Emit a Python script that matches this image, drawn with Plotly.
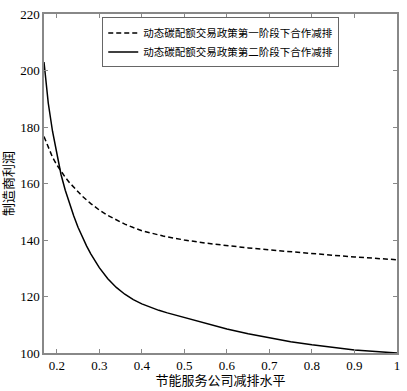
import plotly.graph_objects as go

x1 = [0.17, 0.18, 0.19, 0.20, 0.21, 0.22, 0.23, 0.24, 0.25, 0.26, 0.28, 0.30, 0.32, 0.34, 0.36,
      0.38, 0.40, 0.45, 0.50, 0.55, 0.60, 0.65, 0.70, 0.75, 0.80, 0.85, 0.90, 0.95, 1.00]
stage1 = [176.6, 172.6, 169.3, 166.6, 164.3, 162.2, 160.3, 158.6, 157.0, 155.5, 152.9, 150.6, 148.7,
          147.0, 145.6, 144.4, 143.3, 141.4, 140.0, 138.9, 138.0, 137.2, 136.5, 135.8, 135.2, 134.6,
          134.0, 133.5, 133.0]
x2 = [0.17, 0.18, 0.19, 0.20, 0.21, 0.22, 0.23, 0.24, 0.25, 0.26, 0.27, 0.28, 0.29, 0.30, 0.32,
      0.34, 0.36, 0.38, 0.40, 0.42, 0.44, 0.46, 0.48, 0.50, 0.55, 0.60, 0.65, 0.70, 0.75, 0.80,
      0.85, 0.90, 0.95, 1.00]
stage2 = [203.0, 188.5, 178.5, 170.5, 163.2, 157.6, 152.8, 148.5, 144.5, 141.0, 137.9, 135.1, 132.5,
          130.2, 126.3, 123.2, 120.8, 118.9, 117.4, 116.2, 115.1, 114.2, 113.4, 112.6, 110.4, 108.5,
          106.8, 105.3, 104.0, 102.9, 101.9, 101.1, 100.5, 100.0]
names = ["动态碳配额交易政策第一阶段下合作减排", "动态碳配额交易政策第二阶段下合作减排"]
x_ticks = [0.2, 0.3, 0.4, 0.5, 0.6, 0.7, 0.8, 0.9, 1.0]
x_tick_text = ["0.2", "0.3", "0.4", "0.5", "0.6", "0.7", "0.8", "0.9", "1"]
y_ticks = [100, 120, 140, 160, 180, 200, 220]

FONT = "Liberation Serif, Noto Sans CJK SC, serif"

fig = go.Figure()
fig.add_trace(go.Scatter(x=x1, y=stage1, mode="lines", name=names[0],
                         line=dict(color="black", width=1.5, dash="5px,3px")))
fig.add_trace(go.Scatter(x=x2, y=stage2, mode="lines", name=names[1],
                         line=dict(color="black", width=1.5)))

axis_common = dict(showline=True, linecolor="#888888", linewidth=1.5, mirror="allticks",
                   ticks="inside", ticklen=4, tickcolor="#888888", showgrid=False, zeroline=False,
                   tickfont=dict(family=FONT, size=13, color="black"))
fig.update_xaxes(range=[0.17, 1.0], tickvals=x_ticks, ticktext=x_tick_text,
                 title=dict(text="节能服务公司减排水平", font=dict(family=FONT, size=13, color="black"),
                            standoff=2), **axis_common)
fig.update_yaxes(range=[100, 220], tickvals=y_ticks,
                 title=dict(text="制造商利润", font=dict(family=FONT, size=13, color="black"),
                            standoff=4), **axis_common)

fig.update_layout(
    width=407, height=391,
    margin=dict(l=40, r=7, t=7, b=34),
    plot_bgcolor="white", paper_bgcolor="white",
    font=dict(family=FONT, color="black"),
    legend=dict(x=0.165, y=0.99, xanchor="left", yanchor="top",
                bgcolor="white", bordercolor="#666666", borderwidth=1,
                font=dict(family=FONT, size=10.5, color="black"),
                tracegroupgap=0, itemwidth=30),
    showlegend=True,
)

fig.write_html("out.html", config={"displayModeBar": False})

with open("out.html", "r", encoding="utf-8") as f:
    html = f.read()
html = html.replace("<body>", '<body style="margin:0;padding:0;overflow:hidden">', 1)
with open("out.html", "w", encoding="utf-8") as f:
    f.write(html)
